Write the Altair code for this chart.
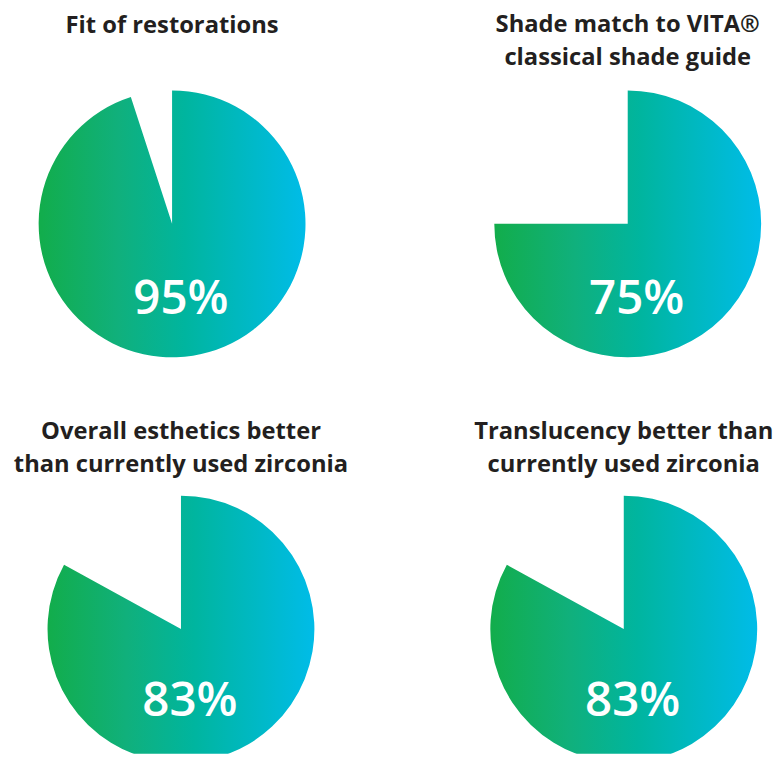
import altair as alt
import pandas as pd

titles = [
    ["Fit of restorations"],
    ["Shade match to VITA®", "classical shade guide"],
    ["Overall esthetics better", "than currently used zirconia"],
    ["Translucency better than", "currently used zirconia"],
]
values = [95, 75, 83, 83]
labels = ["95%", "75%", "83%", "83%"]

gradient = alt.LinearGradient(
    gradient="linear",
    stops=[
        alt.GradientStop(color="#12AD4B", offset=0),
        alt.GradientStop(color="#10B07C", offset=0.3),
        alt.GradientStop(color="#00B59F", offset=0.55),
        alt.GradientStop(color="#00BCE8", offset=1),
    ],
    x1=0, x2=1, y1=0, y2=0,
)

FONT = "Open Sans"
RADIUS = 135


def panel(i, width, height, offset, cy, dy):
    df = pd.DataFrame({"value": [values[i]], "label": [labels[i]]})
    base = alt.Chart(df)
    arc = base.mark_arc(outerRadius=RADIUS, fill=gradient, clip=True).encode(
        theta=alt.Theta("value:Q", scale=alt.Scale(domain=[0, 100]), stack=True),
        y=alt.value(cy),
    )
    txt = base.mark_text(
        font=FONT, fontSize=48, fontWeight=600, color="white",
        baseline="alphabetic", align="center", dx=9, dy=dy,
    ).encode(text="label:N", y=alt.value(cy))
    return alt.layer(arc, txt).properties(
        width=width, height=height,
        view=alt.ViewBackground(stroke="transparent", strokeWidth=0),
        title=alt.TitleParams(
            text=titles[i], font=FONT, fontSize=24, fontWeight="bold",
            color="#231F20", lineHeight=33, anchor="middle", offset=offset,
        ),
    )


row1 = alt.hconcat(
    panel(0, 320, 280, 48, 140, 91), panel(1, 280, 280, 16, 140, 91), spacing=161
)
row2 = alt.hconcat(
    panel(2, 338, 264, 16, 138, 88), panel(3, 280, 264, 16, 138, 88), spacing=126
)

chart = (
    alt.vconcat(row1, row2, spacing=59)
    .configure_view(strokeWidth=0, stroke="transparent")
    .configure(
        padding={"left": 5, "top": 1, "right": 0, "bottom": 0},
        style={"cell": {"stroke": "transparent", "strokeWidth": 0}},
    )
)

chart.save("out.html", embed_options={"renderer": "svg", "actions": False})
